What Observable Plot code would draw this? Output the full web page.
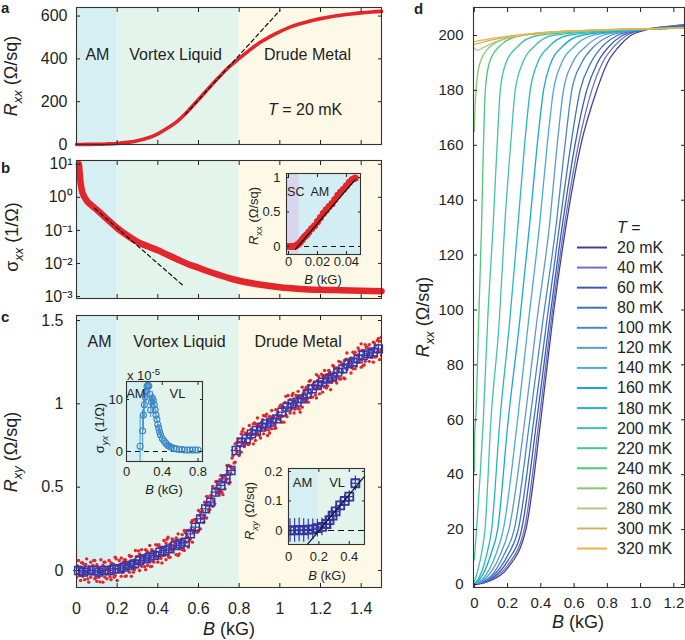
<!DOCTYPE html>
<html><head><meta charset="utf-8">
<script src="https://cdn.jsdelivr.net/npm/d3@7"></script>
<script src="https://cdn.jsdelivr.net/npm/@observablehq/plot@0.6"></script>
<style>
html,body{margin:0;padding:0;background:#fff;}
#root{position:relative;width:685px;height:640px;overflow:hidden;font-family:"Liberation Sans",Arial,Helvetica,sans-serif;color:#231f20;}
#root svg{position:absolute;background:transparent !important;max-width:none !important;overflow:visible;}
</style></head><body><div id="root"></div>
<script>
// ---------------- DATA ----------------
const regionEdges = [0, 0.2, 0.8, 1.5];
const regionNames = ["AM", "Vortex Liquid", "Drude Metal"];
const regionColors = ["#d5eff3", "#e2f4ec", "#fdf9e6"];

// panel a: Rxx vs B at 20 mK
const aB = [0, 0.05, 0.1, 0.15, 0.2, 0.25, 0.3, 0.35, 0.4, 0.45, 0.5, 0.55, 0.6, 0.65, 0.7, 0.75, 0.8, 0.85, 0.9, 0.95, 1.0, 1.05, 1.1, 1.15, 1.2, 1.25, 1.3, 1.35, 1.4, 1.45, 1.5];
const aR = [0, 0.5, 1, 2.5, 5, 10, 18, 30, 50, 78, 112, 158, 210, 263, 314, 362, 402, 440, 475, 503, 527, 548, 564, 577, 588, 597, 604, 610, 615, 619, 622];
const aFitB = [0.535, 1.0];
const aFitR = [140, 626];

// panel b: sigma_xx vs B (log)
const bB = [0.012, 0.016, 0.02, 0.025, 0.03, 0.04, 0.05, 0.07, 0.1, 0.15, 0.2, 0.25, 0.3, 0.35, 0.4, 0.45, 0.5, 0.55, 0.6, 0.65, 0.7, 0.75, 0.8, 0.85, 0.9, 1.0, 1.1, 1.2, 1.3, 1.4, 1.5];
const bS = [10, 5, 2.8, 1.8, 1.35, 1.0, 0.8, 0.6, 0.42, 0.22, 0.117, 0.07, 0.045, 0.033, 0.025, 0.018, 0.013, 0.0095, 0.0074, 0.0057, 0.0045, 0.0036, 0.003, 0.0026, 0.0023, 0.0019, 0.0017, 0.0016, 0.00155, 0.0015, 0.00145];
const bFitB = [0.09, 0.53];
const bFitS = [0.46, 0.002];
const bTicks = [10, 1, 0.1, 0.01, 0.001];
const bTickLabels = ["10¹", "10⁰", "10⁻¹", "10⁻²", "10⁻³"];

// inset of b: Rxx at very low field
const biB = [-0.001, 0.0005, 0.002, 0.0035, 0.005, 0.0065, 0.008, 0.0095, 0.011, 0.0125, 0.014, 0.016, 0.018, 0.02, 0.022, 0.024, 0.026, 0.028, 0.03, 0.032, 0.034, 0.036, 0.038, 0.04, 0.042, 0.044, 0.046];
const biR = [0, 0, 0, 0, 0.01, 0.03, 0.06, 0.1, 0.14, 0.17, 0.21, 0.26, 0.3, 0.36, 0.42, 0.48, 0.53, 0.58, 0.62, 0.68, 0.74, 0.79, 0.83, 0.88, 0.93, 0.97, 0.99];
const biFitB = [0.0048, 0.046];
const biFitR = [-0.04, 0.97];
const biRegionEdges = [-0.0014, 0.0075, 0.0497];
const biRegionNames = ["SC", "AM"];
const biRegionColors = ["#d8d6ee", "#d3eef2"];

// panel c: Rxy raw points (red) and binned averages (blue squares)
const cDotB = [0.00,0.01,0.02,0.03,0.04,0.05,0.06,0.07,0.08,0.09,0.10,0.11,0.12,0.13,0.14,0.15,0.16,0.17,0.18,0.19,0.20,0.21,0.22,0.23,0.24,0.25,0.26,0.27,0.28,0.29,0.30,0.31,0.32,0.33,0.34,0.35,0.36,0.37,0.38,0.39,0.40,0.41,0.42,0.43,0.44,0.45,0.46,0.47,0.48,0.49,0.50,0.51,0.52,0.53,0.54,0.55,0.56,0.57,0.58,0.59,0.60,0.61,0.62,0.63,0.64,0.65,0.66,0.67,0.68,0.69,0.70,0.71,0.72,0.73,0.74,0.75,0.76,0.77,0.78,0.79,0.80,0.81,0.82,0.83,0.84,0.85,0.86,0.87,0.88,0.89,0.90,0.91,0.92,0.93,0.94,0.95,0.96,0.97,0.98,0.99,1.00,1.01,1.02,1.03,1.04,1.05,1.06,1.07,1.08,1.09,1.10,1.11,1.12,1.13,1.14,1.15,1.16,1.17,1.18,1.19,1.20,1.21,1.22,1.23,1.24,1.25,1.26,1.27,1.28,1.29,1.30,1.31,1.32,1.33,1.34,1.35,1.36,1.37,1.38,1.39,1.40,1.41,1.42,1.43,1.44,1.45,1.46,1.47,1.48,1.49,1.50];
const cDotHi = [0.03,0.06,0.02,0.045,0.035,0.07,0.01,0.05,0.03,0.06,0.035,0.01,0.065,0.03,0.05,0.01,0.06,0.045,0.04,0.08,0.03,0.06,0.075,0.05,0.065,0.04,0.09,0.085,0.06,0.12,0.085,0.10,0.125,0.09,0.125,0.11,0.15,0.125,0.10,0.155,0.15,0.14,0.135,0.18,0.165,0.20,0.16,0.19,0.17,0.195,0.22,0.17,0.215,0.24,0.22,0.24,0.24,0.30,0.305,0.30,0.36,0.35,0.355,0.41,0.445,0.41,0.45,0.505,0.49,0.535,0.52,0.57,0.565,0.57,0.63,0.63,0.62,0.69,0.76,0.77,0.77,0.82,0.85,0.825,0.82,0.87,0.85,0.88,0.88,0.915,0.87,0.89,0.93,0.925,0.89,0.925,0.96,0.92,0.965,0.95,0.985,0.99,0.98,1.045,1.05,1.025,1.05,1.015,1.05,1.075,1.04,1.10,1.07,1.10,1.11,1.14,1.11,1.13,1.175,1.165,1.135,1.17,1.20,1.175,1.20,1.175,1.23,1.21,1.215,1.255,1.25,1.23,1.26,1.305,1.25,1.275,1.31,1.31,1.29,1.32,1.36,1.32,1.355,1.34,1.355,1.33,1.37,1.35,1.38,1.375,1.40];
const cDotLo = [-0.04,-0.02,-0.06,-0.035,-0.055,-0.01,-0.07,-0.04,-0.02,-0.05,-0.065,-0.04,-0.015,-0.07,-0.04,-0.05,-0.02,-0.055,-0.02,-0.03,-0.06,0.00,-0.035,-0.01,-0.035,0.01,-0.01,-0.035,-0.01,0.02,0.045,0.00,0.025,0.05,0.005,0.03,0.05,0.025,0.05,0.085,0.05,0.09,0.045,0.09,0.065,0.09,0.08,0.12,0.14,0.095,0.09,0.13,0.125,0.12,0.17,0.14,0.19,0.17,0.245,0.23,0.24,0.25,0.315,0.33,0.315,0.36,0.40,0.385,0.40,0.465,0.46,0.48,0.455,0.49,0.55,0.52,0.58,0.61,0.65,0.71,0.69,0.71,0.76,0.775,0.76,0.76,0.79,0.76,0.78,0.825,0.81,0.85,0.82,0.845,0.81,0.825,0.85,0.88,0.855,0.91,0.905,0.89,0.89,0.935,0.97,0.945,0.97,0.945,1.00,0.975,0.95,0.98,1.02,1.02,1.01,1.04,1.04,1.09,1.035,1.095,1.095,1.07,1.10,1.095,1.13,1.085,1.15,1.14,1.125,1.155,1.15,1.19,1.15,1.205,1.23,1.185,1.21,1.21,1.25,1.25,1.22,1.23,1.255,1.29,1.255,1.28,1.25,1.28,1.31,1.265,1.29];
const cDotB2 = [0.005,0.015,0.025,0.035,0.045,0.055,0.065,0.075,0.085,0.095,0.105,0.115,0.125,0.135,0.145,0.155,0.165,0.175,0.185,0.195,0.205,0.215,0.225,0.235,0.245,0.255,0.265,0.275,0.285,0.295,0.305,0.315,0.325,0.335,0.345,0.355,0.365,0.375,0.385,0.395,0.405,0.415,0.425,0.435,0.445,0.455,0.465,0.475,0.485,0.495,0.505,0.515,0.525,0.535,0.545,0.555,0.565,0.575,0.585,0.595,0.605,0.615,0.625,0.635,0.645,0.655,0.665,0.675,0.685,0.695,0.705,0.715,0.725,0.735,0.745,0.755,0.765,0.775,0.785,0.795,0.805,0.815,0.825,0.835,0.845,0.855,0.865,0.875,0.885,0.895,0.905,0.915,0.925,0.935,0.945,0.955,0.965,0.975,0.985,0.995,1.005,1.015,1.025,1.035,1.045,1.055,1.065,1.075,1.085,1.095,1.105,1.115,1.125,1.135,1.145,1.155,1.165,1.175,1.185,1.195,1.205,1.215,1.225,1.235,1.245,1.255,1.265,1.275,1.285,1.295,1.305,1.315,1.325,1.335,1.345,1.355,1.365,1.375,1.385,1.395,1.405,1.415,1.425,1.435,1.445,1.455,1.465,1.475,1.485,1.495];
const cDotMid = [0.02,-0.03,0.047,-0.015,0.037,-0.05,0.01,-0.02,0.06,-0.043,0.022,-0.068,-0.003,0.05,-0.02,0.01,-0.037,0.038,-0.04,0.07,0.0,0.033,-0.012,0.063,-0.032,0.04,0.083,0.018,0.005,0.083,0.118,0.033,0.088,0.023,0.118,0.07,0.023,0.118,0.103,0.078,0.155,0.073,0.138,0.093,0.188,0.08,0.135,0.185,0.143,0.188,0.10,0.183,0.128,0.23,0.205,0.18,0.29,0.228,0.303,0.23,0.33,0.313,0.288,0.393,0.443,0.365,0.433,0.418,0.533,0.473,0.545,0.468,0.563,0.54,0.59,0.53,0.675,0.645,0.73,0.79,0.745,0.835,0.743,0.823,0.755,0.825,0.815,0.885,0.813,0.868,0.795,0.905,0.853,0.938,0.843,0.898,0.925,0.853,0.933,0.918,0.993,0.925,1.008,0.923,1.003,0.978,1.063,0.968,1.043,0.968,1.045,1.025,1.085,1.03,1.135,1.065,1.105,1.053,1.14,1.06,1.178,1.125,1.163,1.108,1.193,1.128,1.225,1.158,1.20,1.148,1.235,1.155,1.268,1.228,1.263,1.218,1.305,1.225,1.335,1.265,1.32,1.233,1.338,1.293,1.328,1.28,1.365,1.285,1.393,1.318];
const cSqB = [0.01,0.035,0.06,0.085,0.11,0.135,0.16,0.185,0.21,0.235,0.26,0.285,0.31,0.335,0.36,0.385,0.41,0.435,0.46,0.485,0.51,0.535,0.56,0.585,0.61,0.635,0.66,0.685,0.71,0.735,0.76,0.785,0.81,0.835,0.86,0.885,0.91,0.935,0.96,0.985,1.01,1.035,1.06,1.085,1.11,1.135,1.16,1.185,1.21,1.235,1.26,1.285,1.31,1.335,1.36,1.385,1.41,1.435,1.46,1.485];
const cSqR = [0.00,-0.01,0.00,0.00,-0.01,0.00,0.00,0.01,0.01,0.02,0.03,0.04,0.06,0.07,0.08,0.09,0.11,0.12,0.13,0.15,0.16,0.17,0.22,0.26,0.31,0.37,0.41,0.47,0.51,0.55,0.60,0.72,0.77,0.79,0.82,0.84,0.86,0.88,0.89,0.91,0.95,0.98,1.00,1.01,1.03,1.06,1.09,1.11,1.13,1.15,1.16,1.19,1.21,1.24,1.25,1.27,1.29,1.30,1.31,1.33];
const cSqErr = [0.025, 0.03]; // [B error, Rxy error]

// inset c (left): sigma_yx (x 1e-5)
const c1B = [0.152,0.18,0.19,0.2,0.21,0.22,0.23,0.24,0.25,0.26,0.27,0.28,0.29,0.3,0.31,0.32,0.33,0.34,0.35,0.36,0.37,0.38,0.4,0.42,0.44,0.46,0.48,0.5,0.53,0.56,0.59,0.62,0.65,0.68,0.71,0.74,0.77,0.8];
const c1S = [1,4,7,9,10.5,11.5,12.5,12.8,12.6,11,8,9.5,10.3,9.8,9,8,7,6.2,5.2,4.5,3.8,3.2,2.5,2,1.6,1.2,1,0.8,0.6,0.5,0.4,0.4,0.3,0.3,0.3,0.3,0.3,0.3];
const c1E = [6,4,3,2.5,2,2,1.8,1.8,1.5,1.5,1.5,1.3,1.2,1.2,1,1,1,0.8,0.8,0.7,0.7,0.6,0.6,0.5,0.5,0.4,0.4,0.4,0.3,0.3,0.3,0.3,0.3,0.3,0.3,0.3,0.3,0.3];

// inset c (right): Rxy at low field
const c2B = [0.01,0.04,0.07,0.10,0.13,0.16,0.19,0.22,0.25,0.27,0.29,0.31,0.34,0.37,0.40,0.44];
const c2R = [0,0,0.002,0,0.003,0.004,0.008,0.012,0.022,0.035,0.05,0.065,0.085,0.1,0.115,0.16];
const c2E = [0.04,0.04,0.04,0.04,0.035,0.035,0.03,0.03,0.025,0.025,0.02,0.02,0.02,0.02,0.02,0.025];
const c2FitB = [0.123, 0.5];
const c2FitR = [-0.048, 0.183];

// panel d: Rxx(B) at several temperatures
const temps = [20, 40, 60, 80, 100, 120, 140, 160, 180, 200, 220, 240, 260, 280, 300, 320];
const tempColors = ["#41419c","#7070b8","#3a5ab4","#4170c2","#4887c9","#5a9bcf","#4aaad8","#18a8cf","#25b5c8","#42c0b2","#44c39c","#4fc47c","#84c873","#b4c586","#cbb55c","#e8b24a"];
const rxxCurves = [
 [[0,0],[0.1,1.5],[0.2,6],[0.31,20],[0.40,60],[0.47,96],[0.555,132],[0.64,160],[0.736,180],[0.80,190],[0.87,196],[0.94,200],[1.03,202],[1.12,203],[1.264,204]],
 [[0,0],[0.1,1.7],[0.2,7],[0.30,20],[0.39,60],[0.462,96],[0.545,132],[0.625,160],[0.706,180],[0.77,190],[0.84,196],[0.915,200],[1.01,202],[1.12,203],[1.264,203.8]],
 [[0,0],[0.1,2],[0.2,8.5],[0.284,20],[0.376,60],[0.452,96],[0.532,132],[0.605,160],[0.676,180],[0.74,190],[0.81,196],[0.89,200],[0.99,201.8],[1.12,202.8],[1.264,203.5]],
 [[0,0],[0.1,2.5],[0.2,10.5],[0.264,20],[0.358,60],[0.436,96],[0.515,132],[0.58,160],[0.636,180],[0.70,190],[0.77,196],[0.86,200],[0.97,201.8],[1.12,202.7],[1.264,203.3]],
 [[0,0],[0.1,3],[0.18,11],[0.24,20],[0.334,60],[0.412,96],[0.494,132],[0.545,160],[0.586,180],[0.645,190],[0.72,196],[0.82,200],[0.95,201.7],[1.12,202.5],[1.264,203.1]],
 [[0,0],[0.08,3],[0.15,10],[0.208,20],[0.304,60],[0.376,96],[0.454,132],[0.498,160],[0.536,180],[0.59,190],[0.67,196],[0.77,200],[0.92,201.6],[1.264,202.9]],
 [[0,0],[0.07,3.5],[0.13,11],[0.174,20],[0.26,60],[0.326,96],[0.394,132],[0.438,160],[0.476,180],[0.525,190],[0.60,196],[0.71,200],[0.88,201.5],[1.264,202.8]],
 [[0,0],[0.05,3.5],[0.10,11],[0.14,20],[0.204,60],[0.273,96],[0.334,132],[0.378,160],[0.416,180],[0.46,190],[0.53,196],[0.64,200],[0.85,201.5],[1.264,202.8]],
 [[0,0],[0.04,4],[0.075,11],[0.104,20],[0.154,60],[0.213,96],[0.264,132],[0.302,160],[0.336,180],[0.38,190],[0.45,196],[0.56,200],[0.8,201.5],[1.264,202.7]],
 [[0,1],[0.02,5],[0.045,12],[0.064,20],[0.10,60],[0.15,96],[0.184,132],[0.218,160],[0.246,180],[0.29,190],[0.36,196],[0.47,200],[0.75,201.5],[1.264,202.7]],
 [[0,9],[0.005,13],[0.02,26],[0.035,40],[0.054,60],[0.08,96],[0.114,132],[0.137,160],[0.156,180],[0.19,190],[0.26,196],[0.38,200],[0.7,201.6],[1.264,202.7]],
 [[0,41],[0.002,55],[0.008,60],[0.026,96],[0.044,132],[0.055,160],[0.066,180],[0.09,190],[0.15,196],[0.28,200],[0.6,201.6],[1.264,202.7]],
 [[0,165],[0.003,172],[0.01,180],[0.02,186],[0.04,191],[0.08,195],[0.15,198],[0.3,200.3],[0.6,201.7],[1.264,202.7]],
 [[0,195.5],[0.01,194.8],[0.025,194.7],[0.05,195.5],[0.1,197],[0.2,199],[0.4,200.8],[0.7,201.8],[1.264,202.7]],
 [[0,196.8],[0.03,197.2],[0.1,198.3],[0.2,199.4],[0.4,200.9],[0.7,201.9],[1.264,202.7]],
 [[0,197.8],[0.05,198.3],[0.1,198.9],[0.2,199.7],[0.4,201],[0.7,201.9],[1.264,202.7]]
];

// tick values
const mainBTicks = [0, 0.2, 0.4, 0.6, 0.8, 1, 1.2, 1.4];
const aRTicks = [0, 200, 400, 600];
const cRTicks = [0, 0.5, 1, 1.5];
const dBTicks = [0, 0.2, 0.4, 0.6, 0.8, 1.0, 1.2];
const dRTicks = [0, 20, 40, 60, 80, 100, 120, 140, 160, 180, 200];

// ---------------- HELPERS ----------------
const FONT = '"Liberation Sans", Arial, Helvetica, sans-serif';
const INK = "#231f20";
const RED = "#e3262b";
const root = document.getElementById("root");
const zip2 = (xs, ys, kx = "x", ky = "y") => xs.map((v, i) => ({[kx]: v, [ky]: ys[i]}));
const plain = d => String(d);

function place(svg, left, top) {
  svg.style.left = left + "px";
  svg.style.top = top + "px";
  root.appendChild(svg);
}
function style(fs) {
  return {fontFamily: FONT, fontSize: fs + "px", color: INK, background: "transparent", overflow: "visible"};
}
function regions(edges, colors) {
  return colors.map((c, i) => Plot.rect([0], {x1: edges[i], x2: edges[i + 1], fill: c}));
}
function box({xt, yt, xfmt = plain, yfmt = plain, tick = 4, padX = 14, padY = 14, fs = 16, xText = true}) {
  return [
    Plot.axisX(xt, {anchor: "bottom", tickSize: -tick, tickPadding: padX, tickFormat: xfmt, label: null, fontSize: fs, ...(xText ? {} : {fill: "none"})}),
    Plot.axisX(xt, {anchor: "top", tickSize: -tick, label: null, fill: "none"}),
    Plot.axisY(yt, {anchor: "left", tickSize: -tick, tickPadding: padY, tickFormat: yfmt, label: null, fontSize: fs}),
    Plot.axisY(yt, {anchor: "right", tickSize: -tick, label: null, fill: "none"}),
    Plot.frame({stroke: "#333", strokeWidth: 1.1})
  ];
}

// ---------------- PANEL a ----------------
const pa = Plot.plot({
  width: 400, height: 150, marginLeft: 76, marginRight: 19, marginTop: 7, marginBottom: 6,
  x: {domain: [0, 1.5]}, y: {domain: [0, 640]}, style: style(16),
  marks: [
    ...regions(regionEdges, regionColors),
    Plot.line(zip2(aB, aR), {x: "x", y: "y", stroke: RED, strokeWidth: 3.6, curve: "monotone-x"}),
    Plot.line(zip2(aFitB, aFitR), {x: "x", y: "y", stroke: "#111", strokeWidth: 1.2, strokeDasharray: "4,3"}),
    Plot.text(regionNames, {x: [0.103, 0.487, 1.136], y: [419, 419, 419], text: d => d, fontSize: 16, fill: INK}),
    ...box({xt: mainBTicks, yt: aRTicks, xText: false, padY: 13})
  ]
});
place(pa, 0, 0);

// ---------------- PANEL b ----------------
const bLab = new Map(bTicks.map((t, i) => [t, bTickLabels[i]]));
const pb = Plot.plot({
  width: 400, height: 152, marginLeft: 76, marginRight: 19, marginTop: 10, marginBottom: 4,
  x: {domain: [0, 1.5]}, y: {type: "log", domain: [8.7e-4, 13]}, style: style(16),
  marks: [
    ...regions(regionEdges, regionColors),
    Plot.line(zip2(bB, bS), {x: "x", y: "y", stroke: RED, strokeWidth: 6.5, strokeLinecap: "round", strokeLinejoin: "round", curve: "monotone-x"}),
    Plot.line(zip2(bFitB, bFitS), {x: "x", y: "y", stroke: "#111", strokeWidth: 1.2, strokeDasharray: "4,3"}),
    ...box({xt: mainBTicks, yt: bTicks, yfmt: d => bLab.get(d), xText: false, padY: 8})
  ]
});
place(pb, 0, 150);

// inset of b
const pbi = Plot.plot({
  width: 130, height: 125, marginLeft: 46, marginRight: 10, marginTop: 8, marginBottom: 36,
  x: {domain: [-0.0014, 0.0497]}, y: {domain: [-0.116, 1.058]}, style: style(13),
  marks: [
    ...regions(biRegionEdges, biRegionColors),
    Plot.ruleY([0], {stroke: "#111", strokeWidth: 1.1, strokeDasharray: "5,4"}),
    Plot.line(zip2(biB, biR), {x: "x", y: "y", stroke: RED, strokeWidth: 4, clip: true}),
    Plot.dot(zip2(biB, biR), {x: "x", y: "y", r: 3.6, fill: RED, clip: true}),
    Plot.line(zip2(biFitB, biFitR), {x: "x", y: "y", stroke: "#111", strokeWidth: 1.2}),
    Plot.text(biRegionNames, {x: [0.005, 0.0216], y: [0.79, 0.79], text: d => d, fontSize: 12.5, fill: INK}),
    ...box({xt: [0, 0.02, 0.04], yt: [0, 0.5, 1], tick: 3, padX: 5, padY: 9, fs: 13})
  ]
});
place(pbi, 240, 165);

// ---------------- PANEL c ----------------
const cSq = zip2(cSqB, cSqR);
const pc = Plot.plot({
  width: 400, height: 335, marginLeft: 76, marginRight: 19, marginTop: 10, marginBottom: 53,
  x: {domain: [0, 1.5]}, y: {domain: [-0.102, 1.53]}, style: style(16),
  marks: [
    ...regions(regionEdges, regionColors),
    Plot.dot(zip2(cDotB, cDotHi), {x: "x", y: "y", r: 1.7, fill: RED, clip: true}),
    Plot.dot(zip2(cDotB, cDotLo), {x: "x", y: "y", r: 1.7, fill: RED, clip: true}),
    Plot.dot(zip2(cDotB2, cDotMid), {x: "x", y: "y", r: 1.7, fill: RED, clip: true}),
    Plot.ruleX(cSq, {x: "x", y1: d => d.y - cSqErr[1], y2: d => d.y + cSqErr[1], stroke: "#3b3bb0", strokeWidth: 1.2}),
    Plot.ruleY(cSq, {y: "y", x1: d => d.x - cSqErr[0], x2: d => d.x + cSqErr[0], stroke: "#3b3bb0", strokeWidth: 1.2}),
    Plot.dot(cSq, {x: "x", y: "y", symbol: "square", r: 4.4, stroke: "#3636a8", strokeWidth: 1.5, fill: "none"}),
    Plot.text(regionNames, {x: [0.113, 0.506, 1.09], y: [1.374, 1.374, 1.374], text: d => d, fontSize: 16, fill: INK}),
    ...box({xt: mainBTicks, yt: cRTicks, padX: 19, padY: 17})
  ]
});
place(pc, 0, 305);

// inset c1: sigma_yx
const c1 = c1B.map((b, i) => ({x: b, y: c1S[i], e: c1E[i]}));
const pc1 = Plot.plot({
  width: 130, height: 130, marginLeft: 41, marginRight: 13, marginTop: 16, marginBottom: 34,
  x: {domain: [0, 0.85]}, y: {domain: [-1.92, 13.46]}, style: style(13),
  marks: [
    ...regions([0, 0.2, 0.85], [regionColors[0], regionColors[1]]),
    Plot.ruleY([0], {stroke: "#111", strokeWidth: 1.1, strokeDasharray: "5,4"}),
    Plot.ruleX(c1, {x: "x", y1: d => d.y - d.e, y2: d => d.y + d.e, stroke: "#4a97d2", strokeWidth: 1, clip: true}),
    Plot.dot(c1, {x: "x", y: "y", r: 3, stroke: "#3a87c8", strokeWidth: 1.1, fill: "none", clip: true}),
    Plot.text(["AM", "VL"], {x: [0.105, 0.57], y: [11.1, 11.1], text: d => d, fontSize: 13, fill: INK}),
    ...box({xt: [0, 0.4, 0.8], yt: [0, 10], tick: 3, padX: 8, padY: 6.5, fs: 13})
  ]
});
place(pc1, 85, 365);

// inset c2: Rxy low field
const c2 = c2B.map((b, i) => ({x: b, y: c2R[i], e: c2E[i]}));
const pc2 = Plot.plot({
  width: 135, height: 125, marginLeft: 48, marginRight: 11, marginTop: 8, marginBottom: 41,
  x: {domain: [0, 0.5]}, y: {domain: [-0.0475, 0.21]}, style: style(13),
  marks: [
    ...regions([0, 0.2, 0.5], [regionColors[0], regionColors[1]]),
    Plot.ruleY([0], {stroke: "#111", strokeWidth: 1.1, strokeDasharray: "6,4"}),
    Plot.ruleX(c2, {x: "x", y1: d => d.y - d.e, y2: d => d.y + d.e, stroke: "#3838a8", strokeWidth: 1.2, clip: true}),
    Plot.ruleY(c2, {y: "y", x1: d => d.x - 0.03, x2: d => d.x + 0.03, stroke: "#3838a8", strokeWidth: 1.2, clip: true}),
    Plot.dot(c2, {x: "x", y: "y", symbol: "square", r: 4.5, stroke: "#3434a4", strokeWidth: 1.8, fill: "none", clip: true}),
    Plot.line(zip2(c2FitB, c2FitR), {x: "x", y: "y", stroke: "#111", strokeWidth: 1.2}),
    Plot.text(["AM", "VL"], {x: [0.092, 0.32], y: [0.163, 0.163], text: d => d, fontSize: 13, fill: INK}),
    ...box({xt: [0, 0.2, 0.4], yt: [0, 0.1, 0.2], tick: 3, padX: 10, padY: 9, fs: 13})
  ]
});
place(pc2, 240, 460);

// ---------------- PANEL d ----------------
const tempLabels = temps.map(t => t + " mK");
const dRows = [];
rxxCurves.forEach((pts, i) => pts.forEach(([b, r]) => dRows.push({T: tempLabels[i], B: b, R: r})));
const pd = Plot.plot({
  width: 285, height: 640, marginLeft: 73, marginRight: 1, marginTop: 7, marginBottom: 53,
  x: {domain: [-0.005, 1.264]}, y: {domain: [-1.1, 210.2]},
  color: {domain: tempLabels, range: tempColors},
  style: style(15),
  marks: [
    Plot.line(dRows, {x: "B", y: "R", z: "T", stroke: "T", strokeWidth: 1.3, curve: "monotone-x"}),
    ...box({xt: dBTicks, yt: dRTicks, xfmt: d => d === 0 ? "0" : d.toFixed(1), padX: 14, padY: 14, fs: 15})
  ]
});
place(pd, 400, 0);

// ---------------- OVERLAY: titles, letters, legend ----------------
const ov = d3.create("svg").attr("width", 685).attr("height", 640).style("left", "0px").style("top", "0px").style("pointer-events", "none");
function rich({x, y, rotate = 0, anchor = "middle", size = 16, weight = null}, parts) {
  const t = ov.append("text")
    .attr("transform", `translate(${x},${y})` + (rotate ? ` rotate(${rotate})` : ""))
    .attr("text-anchor", anchor).attr("font-size", size).attr("fill", INK).attr("font-family", FONT);
  if (weight) t.attr("font-weight", weight);
  for (const p of parts) {
    const s = t.append("tspan").text(p.t);
    if (p.it) s.attr("font-style", "italic");
    if (p.fs) s.attr("font-size", p.fs);
    if (p.dy) s.attr("dy", p.dy);
  }
}
const sub = (txt, fs, dy, it = true) => ({t: txt, it, fs, dy});
// panel letters
rich({x: 1, y: 13, anchor: "start", size: 15, weight: "bold"}, [{t: "a"}]);
rich({x: 1, y: 173, anchor: "start", size: 15, weight: "bold"}, [{t: "b"}]);
rich({x: 1, y: 322, anchor: "start", size: 15, weight: "bold"}, [{t: "c"}]);
rich({x: 414, y: 14, anchor: "start", size: 15, weight: "bold"}, [{t: "d"}]);
// axis titles
rich({x: 17, y: 76, rotate: -90, size: 18}, [{t: "R", it: true}, sub("xx", 13, 5), {t: " (Ω/sq)", dy: -5}]);
rich({x: 18, y: 237, rotate: -90, size: 18}, [{t: "σ"}, sub("xx", 13, 5), {t: " (1/Ω)", dy: -5}]);
rich({x: 17, y: 452, rotate: -90, size: 18}, [{t: "R", it: true}, sub("xy", 13, 5), {t: " (Ω/sq)", dy: -5}]);
rich({x: 229, y: 635, size: 18}, [{t: "B", it: true}, {t: " (kG)"}]);
rich({x: 429, y: 317, rotate: -90, size: 18}, [{t: "R", it: true}, sub("xx", 13, 5), {t: " (Ω/sq)", dy: -5}]);
rich({x: 578, y: 628, size: 18}, [{t: "B", it: true}, {t: " (kG)"}]);
// inset titles
rich({x: 258, y: 216, rotate: -90, size: 13}, [{t: "R", it: true}, sub("xx", 9.5, 3.5, false), {t: " (Ω/sq)", dy: -3.5}]);
rich({x: 323, y: 284, size: 13}, [{t: "B", it: true}, {t: " (kG)"}]);
rich({x: 104, y: 428, rotate: -90, size: 13}, [{t: "σ"}, sub("yx", 9.5, 3.5), {t: " (1/Ω)", dy: -3.5}]);
rich({x: 164, y: 494, size: 13}, [{t: "B", it: true}, {t: " (kG)"}]);
rich({x: 127, y: 380, anchor: "start", size: 13}, [{t: "x 10"}, {t: "-5", fs: 9.5, dy: -5}]);
rich({x: 254, y: 511, rotate: -90, size: 13}, [{t: "R", it: true}, sub("xy", 9.5, 3.5), {t: " (Ω/sq)", dy: -3.5}]);
rich({x: 327, y: 580, size: 13}, [{t: "B", it: true}, {t: " (kG)"}]);
// T = 20 mK in panel a
rich({x: 268, y: 115, anchor: "start", size: 16}, [{t: "T", it: true}, {t: " = 20 mK"}]);
// legend of panel d
rich({x: 617, y: 233, anchor: "start", size: 16}, [{t: "T", it: true}, {t: " ="}]);
tempLabels.forEach((lab, i) => {
  const yc = 247.5 + 20.07 * i;
  ov.append("line").attr("x1", 577).attr("x2", 607).attr("y1", yc).attr("y2", yc).attr("stroke", tempColors[i]).attr("stroke-width", 2);
  ov.append("text").attr("x", 617).attr("y", yc + 5.5).attr("font-size", 16).attr("font-family", FONT).attr("fill", INK).text(lab);
});
root.appendChild(ov.node());
</script></body></html>
